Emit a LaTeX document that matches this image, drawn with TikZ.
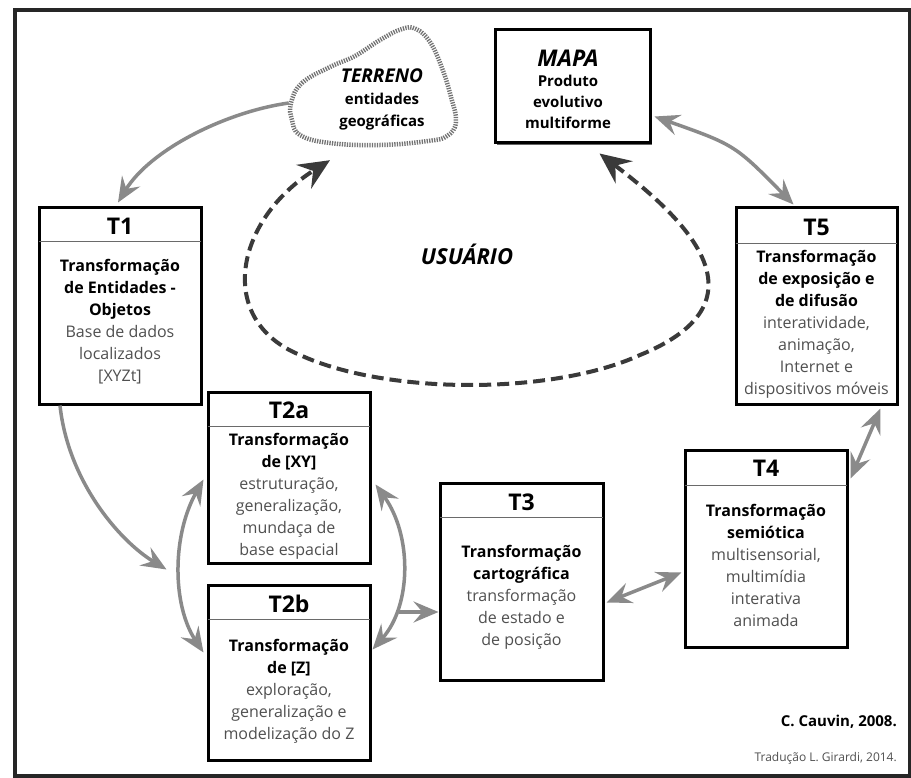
\documentclass[tikz,border=0pt]{standalone}
\usepackage{fontspec}
\setmainfont{Open Sans}
\usetikzlibrary{arrows.meta,calc}
\definecolor{arrgray}{HTML}{8A8A8A}
\definecolor{txtgray}{HTML}{505050}
\definecolor{dashgray}{HTML}{3A3A3A}
\definecolor{hdrline}{HTML}{6A6A6A}
\newcommand\bk[1]{\textcolor{black}{\bfseries #1}}
\begin{document}
\begin{tikzpicture}[x=1pt,y=-1pt,
  tbox/.style={draw=black, line width=3pt, rectangle, inner sep=0pt, fill=white},
  ttitle/.style={font=\bfseries\fontsize{23}{26}\selectfont, inner sep=0pt},
  tbody/.style={align=center, inner sep=0pt, font=\fontsize{16}{22}\selectfont, text=txtgray},
  hdr/.style={draw=hdrline, line width=1.2pt},
  garrow/.style={draw=arrgray, line width=3.5pt, -{Stealth[length=25pt,width=21pt,inset=9pt]}},
  gdarrow/.style={draw=arrgray, line width=3.5pt, {Stealth[length=25pt,width=21pt,inset=9pt]}-{Stealth[length=25pt,width=21pt,inset=9pt]}},
  darrow/.style={draw=dashgray, line width=4pt, dash pattern=on 12pt off 6pt,
     {Stealth[length=31pt,width=28pt,inset=11pt]}-{Stealth[length=31pt,width=28pt,inset=11pt]}},
  credit/.style={inner sep=0pt, anchor=base east}
]
\useasboundingbox (0,0) rectangle (911,778);
\fill[white] (0,0) rectangle (911,778);
% outer frame
\draw[line width=4.5pt, black!85] (15,10) rectangle (910,776);

% TERRENO cloud
\draw[line width=4.5pt, draw=black!55, dash pattern=on 1.3pt off 1.2pt]
  plot[smooth cycle, tension=0.7] coordinates {(291,103) (302,83) (330,67) (355,56) (380,40) (402,29) (416,29) (430,42) (442,68) (451,97) (456,122) (447,136) (428,141) (380,145) (330,143) (300,135) (292,120)};
\node[minimum width=164, minimum height=118, inner sep=0pt] (terreno) at (373,88) {};
\node[align=center, inner sep=0pt, font=\bfseries\fontsize{15}{22}\selectfont] (terrenotxt) at (382,99)
  {{\itshape\fontsize{19}{22}\selectfont TERRENO}\\
   entidades\\
   geográficas};

% MAPA
\fill[black!60] (497,32) rectangle (652,145);
\node[tbox, minimum width=155, minimum height=113] (mapa) at (572.5,86.5) {};
\node[align=center, inner sep=0pt, font=\bfseries\fontsize{15}{21}\selectfont] (mapatxt) at (568,89)
  {{\itshape\fontsize{23}{24}\selectfont MAPA}\\[-1pt]
   Produto\\
   evolutivo\\
   multiforme};

% USUARIO
\node[inner sep=0pt, font=\bfseries\itshape\fontsize{22}{24}\selectfont] (usuario) at (467,254) {USUÁRIO};

% T1
\node[tbox, minimum width=162, minimum height=196] (t1) at (120,306) {};
\draw[hdr] ($(t1.north west)+(1.5,35)$) -- ($(t1.north east)+(-1.5,35)$);
\node[ttitle] (t1t) at (120,226) {T1};
\node[tbody] (t1b) at (120,322) {\bk{Transformação}\\ \bk{de Entidades -}\\ \bk{Objetos}\\ Base de dados\\ localizados\\ {[XYZt]}};

% T2a
\node[tbox, minimum width=162, minimum height=171] (t2a) at (289,477.5) {};
\draw[hdr] ($(t2a.north west)+(1.5,36)$) -- ($(t2a.north east)+(-1.5,36)$);
\node[ttitle] (t2at) at (289,410) {T2a};
\node[tbody] (t2ab) at (289,496) {\bk{Transformação}\\ \bk{de [XY]}\\ estruturação,\\ generalização,\\ mundaça de\\ base espacial};

% T2b
\node[tbox, minimum width=162, minimum height=175] (t2b) at (289,672.5) {};
\draw[hdr] ($(t2b.north west)+(1.5,36)$) -- ($(t2b.north east)+(-1.5,36)$);
\node[ttitle] (t2bt) at (289,604) {T2b};
\node[tbody] (t2bb) at (289,691) {\bk{Transformação}\\ \bk{de [Z]}\\ exploração,\\ generalização e\\ modelização do Z};

% T3
\node[tbox, minimum width=163, minimum height=197] (t3) at (521.5,581.5) {};
\draw[hdr] ($(t3.north west)+(1.5,36)$) -- ($(t3.north east)+(-1.5,36)$);
\node[ttitle] (t3t) at (521.5,502) {T3};
\node[tbody] (t3b) at (521.5,597) {\bk{Transformação}\\ \bk{cartográfica}\\ transformação\\ de estado e\\ de posição};

% T4
\node[tbox, minimum width=162, minimum height=197] (t4) at (766,548.5) {};
\draw[hdr] ($(t4.north west)+(1.5,37)$) -- ($(t4.north east)+(-1.5,37)$);
\node[ttitle] (t4t) at (766,468) {T4};
\node[tbody] (t4b) at (766,565) {\bk{Transformação}\\ \bk{semiótica}\\ multisensorial,\\ multimídia\\ interativa\\ animada};

% T5
\node[tbox, minimum width=161, minimum height=196] (t5) at (816.5,306) {};
\draw[hdr] ($(t5.north west)+(1.5,37)$) -- ($(t5.north east)+(-1.5,37)$);
\node[ttitle] (t5t) at (816.5,227) {T5};
\node[tbody] (t5b) at (816.5,324) {\bk{Transformação}\\ \bk{de exposição e}\\ \bk{de difusão}\\ interatividade,\\ animação,\\ Internet e\\ dispositivos móveis};

% credits
\node[credit, font=\bfseries\fontsize{15}{18}\selectfont] (cred1) at (897,726) {C. Cauvin, 2008.};
\node[credit, font=\fontsize{12}{14}\selectfont, text=txtgray] (cred2) at (897,761) {Tradução L. Girardi, 2014.};

% dashed loop
\draw[darrow] ($(mapa.south)+(27,9)$) .. controls (680,215) and (775,300) .. (640,355)
   .. controls (553,395) and (387,395) .. (300,355)
   .. controls (215,320) and (235,220) .. ($(terreno.south)+(-43,13)$);

% gray connectors
\draw[garrow] ($(terreno.west)+(-2,15)$) .. controls (225,112) and (150,150) .. ($(t1.north)+(-2,-4)$);
\draw[garrow] ($(t1.south)+(-60,0)$) .. controls (68,480) and (118,540) .. ($(t2a.south west)+(-40,5)$);
\draw[gdarrow] ($(t2a.west)+(-3,2)$) .. controls (172,535) and (172,605) .. ($(t2b.west)+(-3,-20)$);
\draw[gdarrow] ($(t2a.east)+(4,7)$) .. controls (412,535) and (412,605) .. ($(t2b.east)+(1,-23)$);
\coordinate (rbranch) at (399,612);
\draw[garrow] (rbranch) -- (t3.west |- rbranch);
\draw[gdarrow] ($(t3.east)+(2,21)$) -- ($(t4.west)+(-2,24)$);
\draw[gdarrow] ($(t4.north east)+(2,30)$) -- ($(t5.south east)+(-18,3)$);
\draw[gdarrow] ($(mapa.east)+(3,30)$) .. controls (735,145) .. ($(t5.north)+(-23,-2)$);
\end{tikzpicture}
\end{document}
